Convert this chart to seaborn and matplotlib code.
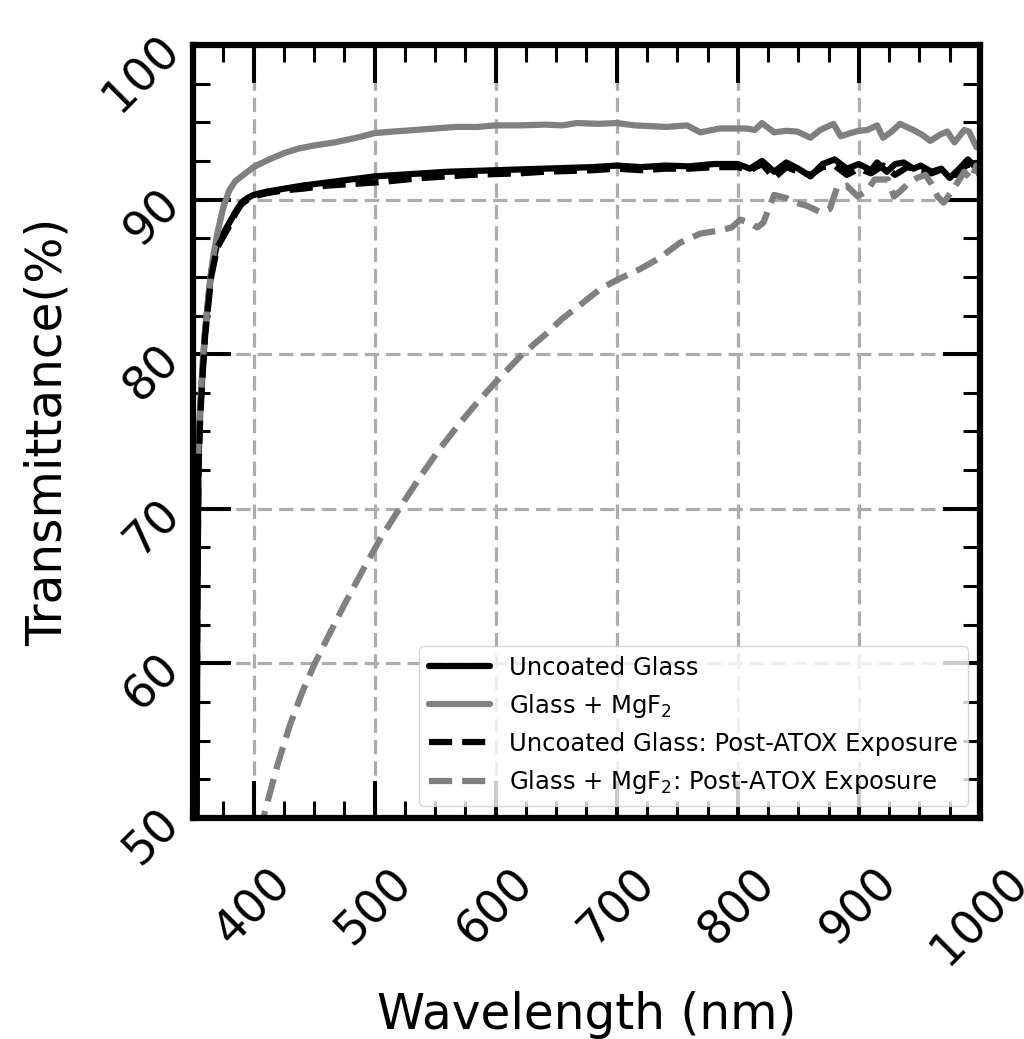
import numpy as np
import pandas as pd
import matplotlib
matplotlib.use("Agg")
import matplotlib.pyplot as plt
from matplotlib.ticker import MultipleLocator
import seaborn as sns

# ---- data ----
wl_uncoated = [352.5, 353.5, 354.5, 356, 358, 360, 365, 370, 375, 380, 385, 390, 395, 400,
               410, 425, 440, 460, 480, 500, 520, 540, 560, 580, 600, 620, 640, 660, 680,
               700, 720, 740, 760, 780, 800, 810, 820, 830, 840, 850, 860, 870, 880, 890,
               900, 910, 915, 923, 930, 937, 945, 951, 960, 968, 975, 983, 990, 995, 1000]
t_uncoated = [35, 62, 73, 76.5, 79, 81.5, 85.3, 87.2, 87.8, 88.5, 89.2, 89.8, 90.1, 90.3,
              90.5, 90.7, 90.9, 91.1, 91.3, 91.5, 91.6, 91.7, 91.8, 91.85, 91.9, 91.95, 92.0,
              92.05, 92.1, 92.2, 92.1, 92.2, 92.15, 92.3, 92.3, 92.0, 92.5, 91.8, 92.4, 92.0,
              91.5, 92.3, 92.6, 92.0, 92.3, 91.9, 92.4, 91.8, 92.3, 92.4, 92.0, 92.2, 91.8,
              92.0, 91.4, 92.0, 92.6, 92.2, 91.6]

wl_mgf2 = [354, 355, 356, 358, 360, 363, 366, 370, 375, 380, 385, 390, 395, 400, 405, 413,
           425, 437, 450, 467, 485, 500, 515, 533, 550, 567, 585, 600, 620, 641, 655, 667,
           685, 700, 715, 728, 741, 758, 769, 785, 800, 807, 814, 820, 830, 840, 849, 860,
           868, 879, 885, 893, 900, 907, 915, 920, 927, 934, 945, 952, 959, 967, 973, 979,
           987, 991, 997, 1000]
t_mgf2 = [73.0, 75.0, 76.8, 79.5, 81.5, 84.0, 86.0, 87.8, 89.5, 90.6, 91.2, 91.5, 91.8, 92.1,
          92.3, 92.6, 93.0, 93.3, 93.5, 93.7, 94.0, 94.3, 94.4, 94.5, 94.6, 94.7, 94.7, 94.8,
          94.8, 94.85, 94.8, 94.95, 94.9, 94.95, 94.8, 94.75, 94.7, 94.8, 94.35, 94.6, 94.6,
          94.6, 94.5, 94.95, 94.35, 94.45, 94.4, 94.0, 94.5, 94.9, 94.1, 94.3, 94.45, 94.5,
          94.8, 94.0, 94.4, 94.9, 94.5, 94.2, 93.8, 94.2, 94.4, 93.7, 94.5, 94.4, 93.4, 93.3]

wl_uncoated_atox = [352, 352.8, 353.6, 354.5, 356, 358, 360, 365, 370, 375, 380, 385, 390,
                    395, 400, 410, 425, 440, 460, 480, 500, 520, 540, 560, 580, 600, 620,
                    640, 660, 680, 700, 720, 740, 760, 780, 800, 810, 820, 830, 840, 850,
                    860, 870, 880, 890, 900, 910, 920, 930, 940, 950, 960, 970, 980, 990, 1000]
t_uncoated_atox = [30, 50, 65, 72.5, 76, 78.8, 81.2, 85.0, 86.9, 87.6, 88.3, 89.1, 89.7,
                   90.0, 90.2, 90.4, 90.6, 90.7, 90.9, 91.0, 91.1, 91.25, 91.4, 91.5, 91.6,
                   91.65, 91.7, 91.8, 91.85, 91.9, 92.0, 91.9, 92.0, 92.0, 92.1, 92.1, 91.9,
                   92.3, 91.4, 92.1, 91.8, 91.6, 92.1, 92.2, 91.6, 92.0, 91.7, 92.2, 91.6,
                   92.1, 91.9, 91.7, 92.0, 91.6, 92.3, 92.0]

wl_mgf2_atox = [405, 410, 420, 430, 440, 450, 462, 475, 490, 505, 522, 537, 553, 570, 585,
                600, 622, 640, 655, 670, 686, 700, 719, 735, 752, 769, 785, 795, 802, 810,
                816, 821, 830, 840, 848, 857, 868, 876, 882, 890, 899, 907, 913, 924, 929,
                935, 940, 948, 955, 960, 965, 970, 979, 987, 993, 997, 1000]
t_mgf2_atox = [49, 50.6, 53.5, 56.0, 58.1, 59.9, 61.8, 63.8, 66.0, 68.1, 70.2, 72.0, 73.8,
               75.5, 76.9, 78.2, 80.0, 81.2, 82.3, 83.2, 84.2, 84.8, 85.5, 86.2, 87.2, 87.8,
               88.0, 88.2, 88.7, 88.5, 88.2, 88.5, 90.3, 90.1, 89.8, 89.6, 89.2, 89.4, 90.8,
               90.9, 90.2, 90.6, 91.3, 91.3, 90.2, 90.6, 91.0, 91.4, 91.6, 91.0, 90.2, 89.8,
               90.8, 91.8, 91.3, 92.2, 91.5]

series = [
    ("Uncoated Glass", wl_uncoated, t_uncoated, "black", "-"),
    ("Glass + MgF$_2$", wl_mgf2, t_mgf2, "#808080", "-"),
    ("Uncoated Glass: Post-ATOX Exposure", wl_uncoated_atox, t_uncoated_atox, "black", "--"),
    ("Glass + MgF$_2$: Post-ATOX Exposure", wl_mgf2_atox, t_mgf2_atox, "#808080", "--"),
]

x_ticks = [400, 500, 600, 700, 800, 900, 1000]
y_ticks = [50, 60, 70, 80, 90, 100]

LW = 4.5

sns.set_style("ticks")
plt.rcParams["font.family"] = ["DejaVu Sans"]
plt.rcParams["text.color"] = "black"
plt.rcParams["axes.labelcolor"] = "black"
plt.rcParams["lines.linewidth"] = LW

fig = plt.figure(figsize=(10.24, 10.39), dpi=100)
ax = fig.add_axes([0.1885, 0.2127, 0.957 - 0.1885, 0.9567 - 0.2127])

for label, wl, t, col, ls in series:
    df = pd.DataFrame({"wl": wl, "t": t})
    sns.lineplot(data=df, x="wl", y="t", ax=ax, color=col, linestyle=ls, linewidth=LW,
                 label=label, sort=False, estimator=None)

for ln in ax.get_lines():
    ln.set_linewidth(LW)

ax.set_xlim(350, 1000)
ax.set_ylim(50, 100)
ax.set_xticks(x_ticks)
ax.set_yticks(y_ticks)
ax.xaxis.set_minor_locator(MultipleLocator(25))
ax.yaxis.set_minor_locator(MultipleLocator(2.5))

ax.grid(True, which="major", color="#adadad", linestyle=(0, (4.5, 2.2)), linewidth=2.3)
ax.set_axisbelow(True)

ax.tick_params(which="both", direction="in", top=True, right=True, colors="black",
               labelcolor="black")
ax.tick_params(which="major", length=27, width=2.9, labelsize=33)
ax.tick_params(which="minor", length=12, width=2.2)
ax.tick_params(axis="x", which="major", labelrotation=45, pad=30)
ax.tick_params(axis="y", which="major", labelrotation=45, pad=3)
for lab in ax.get_xticklabels():
    lab.set_ha("center")

for sp in ax.spines.values():
    sp.set_linewidth(4.5)
    sp.set_color("black")

ax.set_xlabel("Wavelength (nm)", fontsize=35, labelpad=12)
ax.set_ylabel("Transmittance(%)", fontsize=35, labelpad=17)

leg = ax.legend(loc="lower right", fontsize=17.5, handlelength=2.5, framealpha=0.8,
                edgecolor="#cccccc", fancybox=True)
for h in leg.get_lines():
    h.set_linewidth(LW)

fig.savefig("out.png", dpi=100)
